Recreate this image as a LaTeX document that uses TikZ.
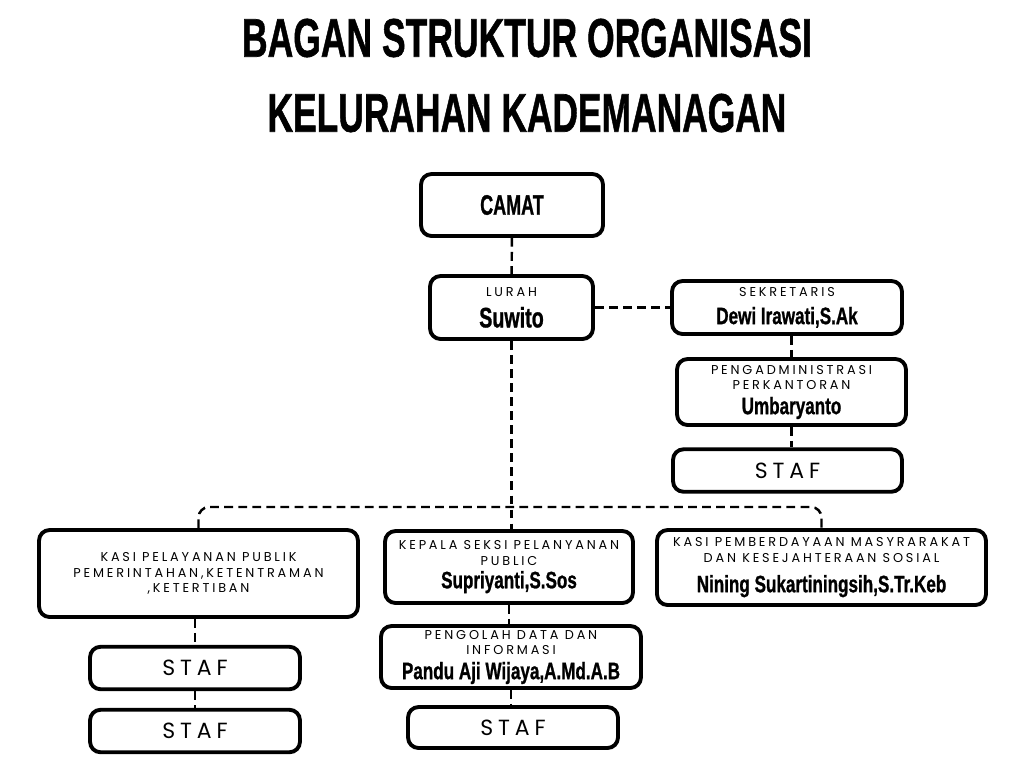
\documentclass[tikz,border=0pt]{standalone}
\usepackage{fontspec}
\usepackage{graphicx}
\usetikzlibrary{positioning}
\setmainfont{Liberation Sans}
\newfontfamily\lblfont[LetterSpace=22]{Poppins}
\newfontfamily\tebalfont{Liberation Sans}[BoldFeatures={FakeBold=1.2}]

% condensed bold text for titles and names
\newcommand{\judul}[2]{\resizebox{#1}{0.76cm}{\tebalfont\bfseries #2}}
\newcommand{\nm}[3][13.5]{{\fontsize{#1}{#1}\tebalfont\bfseries\selectfont\scalebox{#2}[1]{#3}}}

\tikzset{
  box/.style={draw, line width=2.2pt, rounded corners=6pt, fill=white, align=center,
    inner sep=0pt, font=\lblfont\fontsize{7.3}{9}\selectfont},
  stafbox/.style={box, minimum width=4.2cm, minimum height=0.85cm,
    font=\lblfont\fontsize{12.5}{13}\selectfont},
  conn/.style={line width=1.4pt, dash pattern=on 5pt off 3pt}
}

\begin{document}
\begin{tikzpicture}[x=0.02cm, y=-0.02cm]
\useasboundingbox (0,0) rectangle (1024,768);

% Title
\node (judul1) at (527,38) {\judul{11.4cm}{BAGAN STRUKTUR ORGANISASI}};
\node (judul2) at (527,113) {\judul{10.38cm}{KELURAHAN KADEMANAGAN}};

% Boxes
\node[box, minimum width=3.64cm, minimum height=1.24cm] (camat) at (512,205) {\nm[16]{0.64}{CAMAT}};
\node[box, minimum width=3.26cm, minimum height=1.26cm] (lurah) at (511.5,307.5) {LURAH\\[5pt]\nm[16]{0.7}{Suwito}};
\node[box, minimum width=4.6cm, minimum height=1.06cm] (sekretaris) at (787,307.5) {SEKRETARIS\\[5pt]\nm{0.72}{Dewi Irawati,S.Ak}};
\node[box, minimum width=4.58cm, minimum height=1.32cm] (pengadm) at (791.5,392) {PENGADMINISTRASI\\PERKANTORAN\\[3pt]\nm{0.72}{Umbaryanto}};
\node[stafbox, minimum width=4.58cm] (stafsek) at (787.5,470.5) {STAF};

\node[box, minimum width=6.38cm, minimum height=1.74cm] (kasipel) at (198.5,573.5) {KASI PELAYANAN PUBLIK\\PEMERINTAHAN,KETENTRAMAN\\,KETERTIBAN};
\node[stafbox] (stafpel1) at (195,668) {STAF};
\node[stafbox] (stafpel2) at (195,731) {STAF};

\node[box, minimum width=4.96cm, minimum height=1.44cm] (kasiyan) at (509,567) {KEPALA SEKSI PELANYANAN\\PUBLIC\\[2pt]\nm{0.72}{Supriyanti,S.Sos}};
\node[box, minimum width=5.2cm, minimum height=1.24cm] (pengolah) at (511,657) {PENGOLAH DATA DAN\\INFORMASI\\[3pt]\nm{0.72}{Pandu Aji Wijaya,A.Md.A.B}};
\node[stafbox, minimum height=0.82cm] (stafyan) at (513,727.5) {STAF};

\node[box, minimum width=6.58cm, minimum height=1.5cm] (kasiemp) at (821.5,567.5) {KASI PEMBERDAYAAN MASYRARAKAT\\DAN KESEJAHTERAAN SOSIAL\\[6pt]\nm{0.72}{Nining Sukartiningsih,S.Tr.Keb}};

% Connectors
\coordinate (bus) at (510,507);
\draw[conn] (camat) -- (lurah);
\draw[conn] (lurah) -- (sekretaris);
\draw[conn] (lurah.south) -- (lurah.south |- kasiyan.north);
\draw[conn, rounded corners=6pt] (kasipel.north) |- (bus) -| (kasiemp.north);
\draw[conn] (pengadm.north |- sekretaris.south) -- (pengadm.north);
\draw[conn] (pengadm.south) -- (pengadm.south |- stafsek.north);
\draw[conn] (stafpel1.north |- kasipel.south) -- (stafpel1.north);
\draw[conn] (stafpel1) -- (stafpel2);
\draw[conn] (kasiyan.south) -- (kasiyan.south |- pengolah.north);
\draw[conn] (pengolah.south) -- (pengolah.south |- stafyan.north);

\end{tikzpicture}
\end{document}
